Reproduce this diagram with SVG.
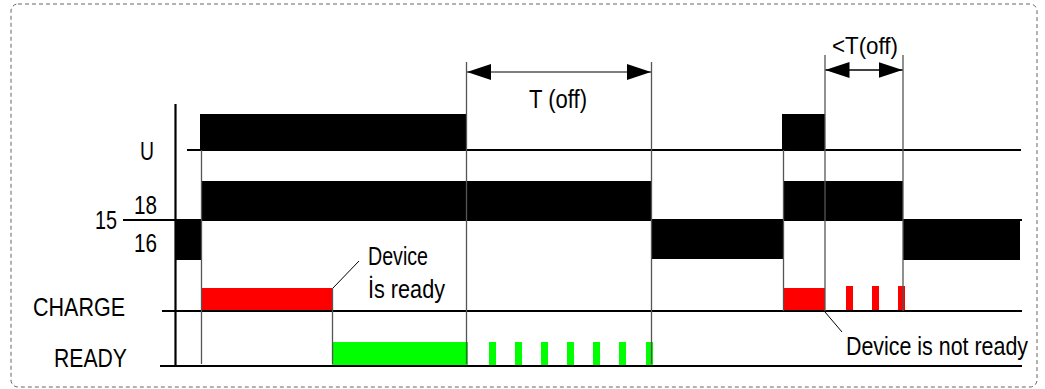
<svg xmlns="http://www.w3.org/2000/svg" width="1045" height="389" viewBox="0 0 1045 389">
<style>
.lbl{font-family:"Liberation Sans",Arial,sans-serif;font-size:26px;fill:#000}
.sm{font-size:24px}
.base{stroke:#000;stroke-width:2.2;fill:none}
.thin{stroke:#555;stroke-width:1.3;fill:none}
.bar{fill:#000}
.red{fill:#ff0000}
.grn{fill:#00ff00}
</style>
<defs>
<marker id="ah" markerWidth="24" markerHeight="16" refX="24" refY="8" orient="auto-start-reverse" markerUnits="userSpaceOnUse">
<path d="M0,0 L24,8 L0,16 Z" fill="#000"/>
</marker>
</defs>
<rect x="11" y="4" width="1026" height="383" rx="7" fill="#fff" stroke="#666" stroke-width="1" stroke-dasharray="4,3"/>

<g id="signals">
<rect class="bar" x="200" y="114" width="266" height="36"/>
<rect class="bar" x="782" y="114" width="43" height="36"/>
<rect class="bar" x="175" y="220" width="27" height="40"/>
<rect class="bar" x="202" y="181" width="450" height="39"/>
<rect class="bar" x="652" y="220" width="132" height="39"/>
<rect class="bar" x="784" y="181" width="119" height="39"/>
<rect class="bar" x="903" y="220" width="117" height="40"/>
<rect class="red" x="202" y="288" width="131" height="22"/>
<rect class="red" x="784" y="288" width="41" height="22"/>
<rect class="red" x="846" y="286" width="7" height="24"/>
<rect class="red" x="872" y="286" width="7" height="24"/>
<rect class="red" x="898" y="286" width="7" height="24"/>
<rect class="grn" x="332" y="342" width="136" height="25"/>
<rect class="grn" x="489" y="342" width="7" height="25"/>
<rect class="grn" x="515" y="342" width="7" height="25"/>
<rect class="grn" x="541" y="342" width="7" height="25"/>
<rect class="grn" x="567" y="342" width="7" height="25"/>
<rect class="grn" x="593" y="342" width="7" height="25"/>
<rect class="grn" x="619" y="342" width="7" height="25"/>
<rect class="grn" x="646" y="342" width="7" height="25"/>
</g>

<g id="connectors">
<line class="base" x1="175.5" y1="104" x2="175.5" y2="366"/>
<line class="base" x1="187" y1="150" x2="1021" y2="150"/>
<line class="base" x1="123" y1="220" x2="1022" y2="220"/>
<line class="base" x1="162" y1="311" x2="1022" y2="311"/>
<line class="base" x1="160" y1="366" x2="1022" y2="366"/>
<line class="thin" x1="201.5" y1="150" x2="201.5" y2="364"/>
<line class="thin" x1="466.5" y1="62" x2="466.5" y2="364"/>
<line class="thin" x1="651.5" y1="62" x2="651.5" y2="364"/>
<line class="thin" x1="332.5" y1="288" x2="332.5" y2="364"/>
<line class="thin" x1="783.5" y1="150" x2="783.5" y2="311"/>
<line class="thin" x1="825" y1="55" x2="825" y2="311"/>
<line class="thin" x1="903" y1="55" x2="903" y2="311"/>
<line x1="467" y1="72" x2="651" y2="72" stroke="#555" stroke-width="1.3" marker-start="url(#ah)" marker-end="url(#ah)"/>
<line x1="825.5" y1="70" x2="902.5" y2="70" stroke="#000" stroke-width="1.3" marker-start="url(#ah)" marker-end="url(#ah)"/>
<line x1="333" y1="288" x2="359" y2="261" stroke="#000" stroke-width="1"/>
<line x1="825" y1="312" x2="842" y2="332" stroke="#000" stroke-width="1"/>
</g>

<g id="labels">
<text class="lbl" x="140" y="160" textLength="14" lengthAdjust="spacingAndGlyphs">U</text>
<text class="lbl" x="134" y="214" textLength="23" lengthAdjust="spacingAndGlyphs">18</text>
<text class="lbl" x="95" y="228.5" textLength="22" lengthAdjust="spacingAndGlyphs">15</text>
<text class="lbl" x="134" y="252" textLength="23" lengthAdjust="spacingAndGlyphs">16</text>
<text class="lbl" x="33" y="316" textLength="92" lengthAdjust="spacingAndGlyphs">CHARGE</text>
<text class="lbl" x="54" y="366.5" textLength="73" lengthAdjust="spacingAndGlyphs">READY</text>
<text class="lbl" x="529" y="108" textLength="58" lengthAdjust="spacingAndGlyphs">T (off)</text>
<text class="lbl sm" x="832" y="54" textLength="66" lengthAdjust="spacingAndGlyphs">&lt;T(off)</text>
<text class="lbl" x="368" y="265" textLength="60" lengthAdjust="spacingAndGlyphs">Device</text>
<text class="lbl" x="368" y="298" textLength="77" lengthAdjust="spacingAndGlyphs">İs ready</text>
<text class="lbl" x="846" y="354.5" textLength="182" lengthAdjust="spacingAndGlyphs">Device is not ready</text>
</g>
</svg>
